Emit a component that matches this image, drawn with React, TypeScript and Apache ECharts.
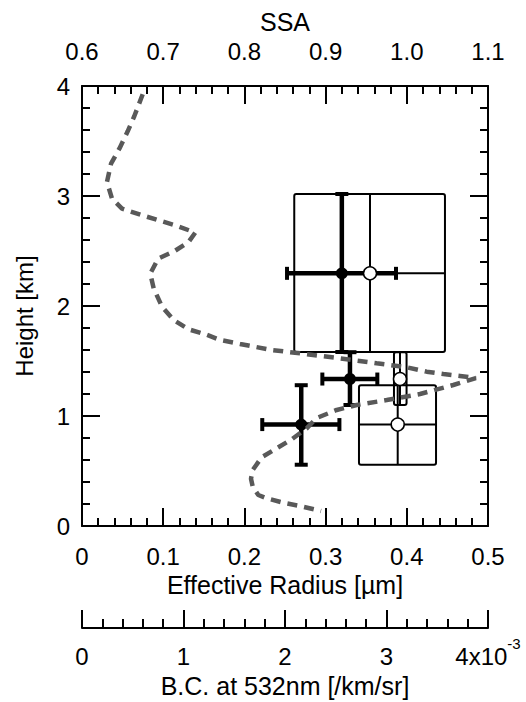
import { useEffect, useRef } from 'react';
import * as echarts from 'echarts';

const FONT = '"Liberation Sans", Arial, Helvetica, sans-serif';

// Backscatter coefficient profile (x in 1e-3 /km/sr, y in km)
const bcHeights = [3.925, 3.725, 3.588, 3.43, 3.294, 3.127, 2.975, 2.885, 2.83, 2.779, 2.734, 2.667, 2.582, 2.5, 2.43, 2.294, 2.161, 1.994, 1.873, 1.788, 1.743, 1.691, 1.655, 1.6, 1.57, 1.524, 1.479, 1.443, 1.403, 1.382, 1.364, 1.345, 1.282, 1.2, 1.145, 1.1, 1.055, 0.982, 0.888, 0.788, 0.706, 0.625, 0.509, 0.43, 0.357, 0.282, 0.252, 0.212, 0.182, 0.136];
const bcValues = [0.598, 0.515, 0.45, 0.368, 0.286, 0.246, 0.296, 0.394, 0.575, 0.755, 0.919, 1.116, 1.05, 0.913, 0.749, 0.673, 0.706, 0.788, 0.903, 1.051, 1.215, 1.362, 1.557, 1.869, 2.148, 2.542, 2.903, 3.199, 3.396, 3.56, 3.724, 3.88, 3.658, 3.33, 3.002, 2.706, 2.509, 2.312, 2.214, 2.066, 1.918, 1.77, 1.682, 1.665, 1.682, 1.737, 1.82, 1.983, 2.148, 2.355];

// Layers (km)
const layerHeights = [2.297, 1.336, 0.922];
const layerHeightLow = [1.582, 1.1, 0.557];
const layerHeightHigh = [3.018, 1.58, 1.28];

// Effective radius (um), filled circles with error bars
const radiusValues = [0.32, 0.33, 0.27];
const radiusLow = [0.2525, 0.296, 0.222];
const radiusHigh = [0.3867, 0.3637, 0.317];

// SSA, open circles with range boxes
const ssaValues = [0.9547, 0.9916, 0.9888];
const ssaLow = [0.8614, 0.9842, 0.9411];
const ssaHigh = [1.047, 0.9997, 1.036];

// Tick label settings
const heightTicks = { min: 0, max: 4, interval: 1 };
const radiusTicks = { min: 0, max: 0.5, interval: 0.1 };
const ssaTicks = { min: 0.6, max: 1.1, interval: 0.1 };
const bcTicks = { min: 0, max: 4, interval: 1 };

const TICK_FS = 24;
const NAME_FS = 25;

function axis(extra: any) {
  return {
    type: 'value',
    axisLine: { show: true, onZero: false, lineStyle: { color: '#000', width: 2 } },
    axisTick: { show: true, inside: true, length: 18, lineStyle: { color: '#000', width: 2 } },
    minorTick: { show: true, splitNumber: 5, length: 8, lineStyle: { color: '#000', width: 2 } },
    splitLine: { show: false },
    minorSplitLine: { show: false },
    nameTextStyle: { color: '#000', fontSize: NAME_FS, fontFamily: FONT },
    ...extra,
    axisLabel: {
      color: '#000',
      fontSize: TICK_FS,
      fontFamily: FONT,
      showMinLabel: true,
      showMaxLabel: true,
      ...(extra.axisLabel || {}),
    },
  };
}

export default function App() {
  const ref = useRef<HTMLDivElement>(null);
  useEffect(() => {
    const chart = echarts.init(ref.current!, null, { renderer: 'svg' });
    const boxData = ssaValues.map((s, i) => [ssaLow[i], ssaHigh[i], s, layerHeightLow[i], layerHeightHigh[i], layerHeights[i]]);
    const errData = radiusValues.map((r, i) => [r, layerHeights[i], radiusLow[i], radiusHigh[i], layerHeightLow[i], layerHeightHigh[i]]);
    const option: any = {
      animation: false,
      backgroundColor: '#fff',
      grid: { left: 82, right: 38, top: 86, bottom: 176, containLabel: false, outerBoundsMode: 'none' },
      xAxis: [
        axis({
          ...radiusTicks,
          position: 'bottom',
          name: 'Effective Radius [\u00b5m]',
          nameLocation: 'middle',
          nameGap: 45,
          axisLabel: { margin: 18, formatter: (v: number) => (v === 0 ? '0' : v.toFixed(1)) },
        }),
        axis({
          ...ssaTicks,
          position: 'top',
          name: 'SSA',
          nameLocation: 'middle',
          nameGap: 42,
          axisLabel: { margin: 23, formatter: (v: number) => v.toFixed(1) },
        }),
        axis({
          ...bcTicks,
          position: 'bottom',
          offset: 102,
          name: 'B.C. at 532nm [/km/sr]',
          nameLocation: 'middle',
          nameGap: 45,
          minorTick: { show: true, splitNumber: 5, length: 9, lineStyle: { color: '#000', width: 2 } },
          axisLabel: {
            margin: 8,
            formatter: (v: number) => (v === 4 ? '{n|4x10}{s|-3}' : '{n|' + Math.round(v) + '}'),
            rich: {
              n: { fontSize: TICK_FS, fontFamily: FONT, color: '#000', padding: [8, 0, 0, 0] },
              s: { fontSize: 15, fontFamily: FONT, color: '#000', padding: [0, 0, 17, 0] },
            },
          },
        }),
      ],
      yAxis: [
        axis({
          ...heightTicks,
          position: 'left',
          axisLabel: { margin: 12, formatter: (v: number) => String(Math.round(v)) },
        }),
        axis({
          ...heightTicks,
          position: 'right',
          axisLabel: { show: false },
        }),
      ],
      graphic: [
        {
          type: 'text',
          x: 24,
          y: 316,
          rotation: Math.PI / 2,
          style: {
            text: 'Height [km]',
            fill: '#000',
            fontSize: 24,
            fontFamily: FONT,
            align: 'center',
            verticalAlign: 'middle',
          },
        },
      ],
      series: [
        {
          type: 'custom',
          xAxisIndex: 1,
          yAxisIndex: 0,
          z: 2,
          clip: false,
          data: boxData,
          renderItem: (_p: any, api: any) => {
            const lo = api.value(0), hi = api.value(1), c = api.value(2);
            const hLo = api.value(3), hHi = api.value(4), hC = api.value(5);
            const p1 = api.coord([lo, hHi]);
            const p2 = api.coord([hi, hLo]);
            const pc = api.coord([c, hC]);
            const st = { stroke: '#000', lineWidth: 2, fill: 'none' };
            return {
              type: 'group',
              children: [
                { type: 'rect', shape: { x: p1[0], y: p1[1], width: p2[0] - p1[0], height: p2[1] - p1[1], r: 2 }, style: st },
                { type: 'line', shape: { x1: pc[0], y1: p1[1], x2: pc[0], y2: p2[1] }, style: st },
                { type: 'line', shape: { x1: p1[0], y1: pc[1], x2: p2[0], y2: pc[1] }, style: st },
              ],
            };
          },
        },
        {
          type: 'custom',
          xAxisIndex: 0,
          yAxisIndex: 0,
          z: 3,
          clip: false,
          data: errData,
          renderItem: (_p: any, api: any) => {
            const r = api.value(0), h = api.value(1);
            const rLo = api.value(2), rHi = api.value(3), hLo = api.value(4), hHi = api.value(5);
            const pL = api.coord([rLo, h]);
            const pR = api.coord([rHi, h]);
            const pT = api.coord([r, hHi]);
            const pB = api.coord([r, hLo]);
            const bar = { stroke: '#000', lineWidth: 4.5, lineCap: 'butt' };
            const cap = { stroke: '#000', lineWidth: 4, lineCap: 'butt' };
            const cl = 6.5;
            return {
              type: 'group',
              children: [
                { type: 'line', shape: { x1: pL[0], y1: pL[1], x2: pR[0], y2: pR[1] }, style: bar },
                { type: 'line', shape: { x1: pT[0], y1: pT[1], x2: pB[0], y2: pB[1] }, style: bar },
                { type: 'line', shape: { x1: pL[0], y1: pL[1] - cl, x2: pL[0], y2: pL[1] + cl }, style: cap },
                { type: 'line', shape: { x1: pR[0], y1: pR[1] - cl, x2: pR[0], y2: pR[1] + cl }, style: cap },
                { type: 'line', shape: { x1: pT[0] - cl, y1: pT[1], x2: pT[0] + cl, y2: pT[1] }, style: cap },
                { type: 'line', shape: { x1: pB[0] - cl, y1: pB[1], x2: pB[0] + cl, y2: pB[1] }, style: cap },
              ],
            };
          },
        },
        {
          type: 'scatter',
          xAxisIndex: 0,
          yAxisIndex: 0,
          z: 4,
          symbol: 'circle',
          symbolSize: 12,
          itemStyle: { color: '#000', opacity: 1 },
          data: radiusValues.map((r, i) => [r, layerHeights[i]]),
        },
        {
          type: 'scatter',
          xAxisIndex: 1,
          yAxisIndex: 0,
          z: 5,
          symbol: 'circle',
          symbolSize: 13,
          itemStyle: { color: '#fff', borderColor: '#000', borderWidth: 1.5, opacity: 1 },
          data: ssaValues.map((s, i) => [s, layerHeights[i]]),
        },
        {
          type: 'line',
          xAxisIndex: 2,
          yAxisIndex: 0,
          z: 6,
          showSymbol: false,
          symbol: 'none',
          lineStyle: { color: '#595959', width: 4.5, type: [10, 7] },
          data: bcValues.map((b, i) => [b, bcHeights[i]]),
        },
      ],
    };
    chart.setOption(option);
    return () => chart.dispose();
  }, []);
  return <div ref={ref} style={{ position: 'absolute', left: 0, top: 0, width: 526, height: 702, background: '#fff' }} />;
}
